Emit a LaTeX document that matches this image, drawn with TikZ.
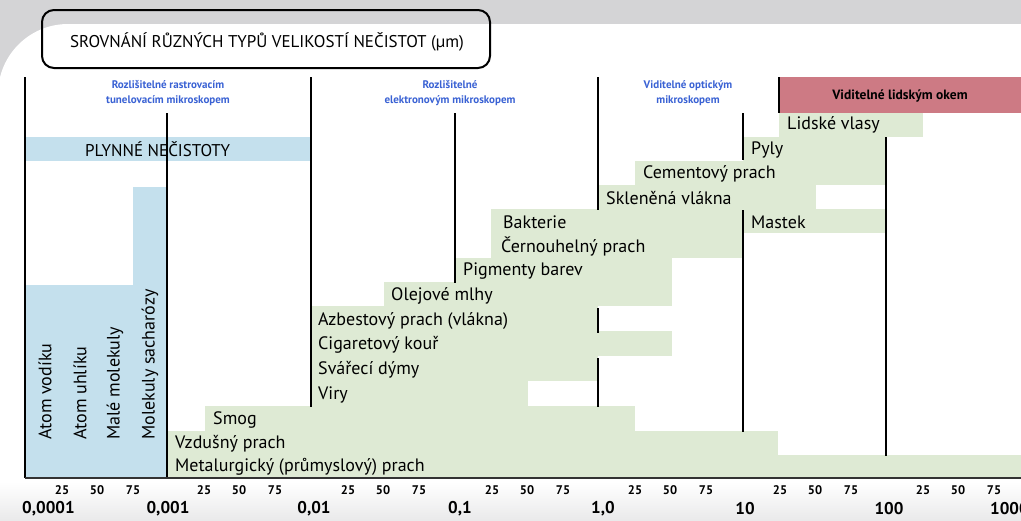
\documentclass[tikz,border=0pt]{standalone}
\usepackage{fontspec}
\setmainfont{PT Sans}
\usepackage{tikz}

\definecolor{barGreen}{RGB}{222,234,212}
\definecolor{gasBlue}{RGB}{196,224,237}
\definecolor{eyeRed}{RGB}{205,122,132}
\definecolor{headBlue}{RGB}{58,98,212}
\definecolor{frameGray}{RGB}{212,212,214}

\tikzset{
  bar/.style={fill=barGreen},
  gas/.style={fill=gasBlue},
  sep/.style={line width=2.6pt, black},
  lbl/.style={anchor=west, inner sep=0pt, font=\fontsize{18}{18}\selectfont},
  vlbl/.style={anchor=west, inner sep=0pt, rotate=90, font=\fontsize{18}{18}\selectfont},
  head/.style={align=center, inner sep=0pt, text=headBlue, font=\bfseries\fontsize{11}{15}\selectfont},
  tick/.style={inner sep=0pt, font=\bfseries\fontsize{12.5}{12.5}\selectfont},
  decade/.style={inner sep=0pt, font=\bfseries\fontsize{17}{17}\selectfont}
}

\begin{document}
\begin{tikzpicture}[x=1pt, y=-1pt]
\useasboundingbox (0,0) rectangle (1021,520);
% background card
\fill[frameGray] (0,0) rectangle (1021,520);
\fill[white, rounded corners=70pt] (-2,24) rectangle (1100,620);
\shade[top color=white, bottom color=frameGray!50] (0,482) rectangle (1021,520);

% title
\draw[line width=2pt, rounded corners=12pt] (42,10) rectangle (490,68);
\node[font=\fontsize{17}{17}\selectfont] (title) at (267,42) {SROVNÁNÍ RŮZNÝCH TYPŮ VELIKOSTÍ NEČISTOT (µm)};

% headers
\node[head] (stm) at (168,93) {Rozlišitelné rastrovacím\\tunelovacím mikroskopem};
\node[head] (elm) at (450,93) {Rozlišitelné\\elektronovým mikroskopem};
\node[head] (opt) at (688,93) {Viditelné optickým\\mikroskopem};
\fill[eyeRed] (779,77) rectangle (1021,113);
\node[font=\bfseries\fontsize{13.5}{14}\selectfont] (eye) at (900,96) {Viditelné lidským okem};

% gases and molecules
\fill[gas] (25,137) rectangle (311,161);
\fill[gas] (25,285) rectangle (167,478);
\fill[gas] (133,187) rectangle (167,478);

% particle ranges
\fill[bar] (779,113) rectangle (923,137);
\fill[bar] (743,137) rectangle (886,161);
\fill[bar] (635,161) rectangle (886,185);
\fill[bar] (598,185) rectangle (816,209);
\fill[bar] (491,209) rectangle (886,233);
\fill[bar] (491,233) rectangle (743,258);
\fill[bar] (455,258) rectangle (672,282);
\fill[bar] (384,282) rectangle (672,306);
\fill[bar] (311,306) rectangle (598,331);
\fill[bar] (311,331) rectangle (672,356);
\fill[bar] (311,356) rectangle (598,381);
\fill[bar] (311,381) rectangle (528,406);
\fill[bar] (205,406) rectangle (635,431);
\fill[bar] (167,431) rectangle (778,455);
\fill[bar] (167,455) rectangle (1021,478);

% decade lines
\draw[sep] (25,77) -- (25,478);
\draw[sep] (167,113) -- (167,478);
\draw[sep] (311,77) -- (311,407);
\draw[sep] (455,113) -- (455,283);
\draw[sep] (598,77) -- (598,210);
\draw[sep] (598,308) -- (598,333);
\draw[sep] (598,358) -- (598,407);
\draw[sep] (743,113) -- (743,160);
\draw[sep] (743,210) -- (743,432);
\draw[sep] (779,77) -- (779,113);
\draw[sep] (886,137) -- (886,456);
\draw[line width=1.4pt, black!80] (25,478) -- (1021,478);

% labels
\node[lbl] (hair) at (787,125) {Lidské vlasy};
\node[lbl, font=\fontsize{17}{17}\selectfont] (gasn) at (85,149) {PLYNNÉ NEČISTOTY};
\node[lbl] (pollen) at (751,150) {Pyly};
\node[lbl] (cement) at (643,174) {Cementový prach};
\node[lbl] (glass) at (606,198) {Skleněná vlákna};
\node[lbl] (bact) at (503,222) {Bakterie};
\node[lbl] (talc) at (751,222) {Mastek};
\node[lbl] (coal) at (501,247) {Černouhelný prach};
\node[lbl] (paint) at (463,271) {Pigmenty barev};
\node[lbl] (oil) at (391,296) {Olejové mlhy};
\node[lbl] (asb) at (318,321) {Azbestový prach (vlákna)};
\node[lbl] (smoke) at (318,345) {Cigaretový kouř};
\node[lbl] (weld) at (318,370) {Svářecí dýmy};
\node[lbl] (virus) at (318,395) {Viry};
\node[lbl] (smog) at (213,420) {Smog};
\node[lbl] (air) at (175,444) {Vzdušný prach};
\node[lbl] (metal) at (175,467) {Metalurgický (průmyslový) prach};
\node[vlbl] (hyd) at (45,440) {Atom vodíku};
\node[vlbl] (carb) at (80,440) {Atom uhlíku};
\node[vlbl] (smol) at (115,440) {Malé molekuly};
\node[vlbl] (sucr) at (150,440) {Molekuly sacharózy};

% axis
\foreach \d in {25,167,311,455,598,743,886}{
  \node[tick] at (\d+37,490) {25};
  \node[tick] at (\d+72,490) {50};
  \node[tick] at (\d+108,490) {75};
}
\node[decade, anchor=west] (d0) at (22,509) {0,0001};
\node[decade] (d1) at (168,509) {0,001};
\node[decade] (d2) at (314,509) {0,01};
\node[decade] (d3) at (460,509) {0,1};
\node[decade] (d4) at (603,509) {1,0};
\node[decade] (d5) at (745,509) {10};
\node[decade] (d6) at (889,509) {100};
\node[decade, anchor=west] (d7) at (990,509) {1000};
\end{tikzpicture}
\end{document}
